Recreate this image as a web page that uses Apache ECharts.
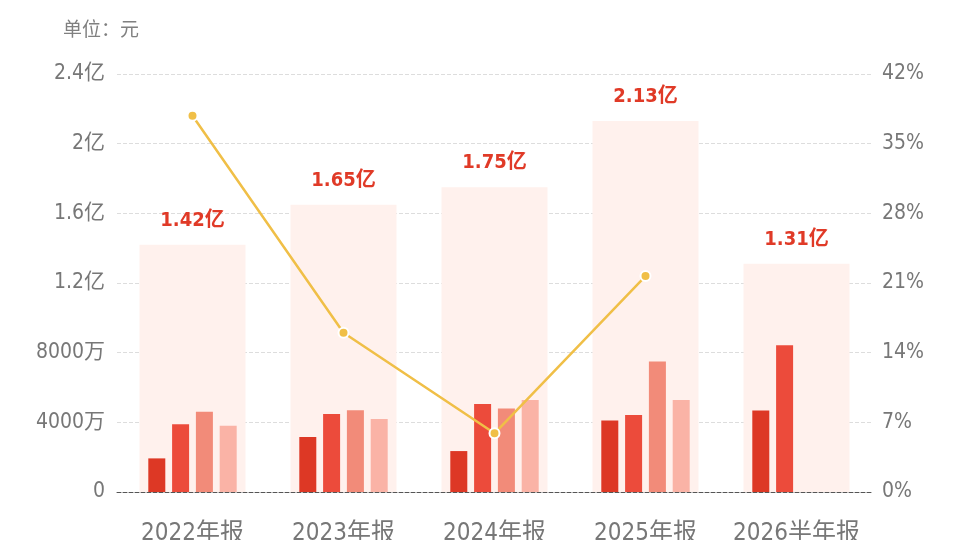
<!DOCTYPE html>
<html>
<head>
<meta charset="utf-8">
<style>
  html, body { margin: 0; padding: 0; background: #fff; }
  #main { width: 960px; height: 540px; }
</style>
<script src="https://cdn.jsdelivr.net/npm/echarts@6/dist/echarts.min.js"></script>
</head>
<body>
<div id="main"></div>
<script>
// categories
var periods = ['2022年报', '2023年报', '2024年报', '2025年报', '2026半年报'];
// quarterly values, 万元
var q1 = [1930, 3160, 2350, 4100, 4680];
var q2 = [3890, 4480, 5050, 4420, 8420];
var q3 = [4610, 4690, 4800, 7500, null];
var q4 = [3810, 4190, 5280, 5280, null];
// period totals, 万元
var totals = [14200, 16500, 17500, 21300, 13100];
// growth rate, %
var growth = [37.8, 16.0, 5.9, 21.7, null];
// left axis ticks
var leftTicks = [0, 4000, 8000, 12000, 16000, 20000, 24000];

var FONT = "'Liberation Sans Narrow', 'DejaVu Sans Condensed', 'Noto Sans CJK SC', sans-serif";
var barColors = ['#DD3825', '#EC4B3B', '#F28B79', '#FAB3A6'];

function fmtLeft(v) {
	if (v === 0) return '0';
	if (v >= 10000) return (v / 10000) + '亿';
	return v + '万';
}

var quarters = [q1, q2, q3, q4];
var series = [{
	name: 'total',
	type: 'bar',
	xAxisIndex: 1,
	barWidth: 106,
	data: totals,
	itemStyle: { color: '#FFF1ED' },
	label: {
		show: true,
		position: 'top',
		distance: 14,
		color: '#E03A27',
		fontWeight: 'bold',
		fontSize: 20,
		fontFamily: FONT,
		formatter: function (p) { return (p.value / 10000).toFixed(2) + '亿'; }
	},
	z: 1
}];
for (var i = 0; i < quarters.length; i++) {
	series.push({
		name: 'Q' + (i + 1),
		type: 'bar',
		xAxisIndex: 0,
		barWidth: 17,
		barGap: '40%',
		data: quarters[i],
		itemStyle: { color: barColors[i] },
		z: 2
	});
}
series.push({
	name: 'growth',
	type: 'line',
	yAxisIndex: 1,
	data: growth,
	symbol: 'circle',
	symbolSize: 10,
	lineStyle: { color: '#F0BF47', width: 2.5 },
	itemStyle: { color: '#F0BF47', borderColor: '#fff', borderWidth: 2 },
	z: 5
});

var option = {
	animation: false,
	title: {
		text: '单位：元',
		left: 58,
		top: 14,
		textStyle: { color: '#808080', fontSize: 19, fontWeight: 'normal', fontFamily: "'Noto Sans CJK SC', sans-serif" }
	},
	grid: { left: 117, right: 88, top: 74, bottom: 48, containLabel: false, outerBoundsMode: 'none' },
	xAxis: [{
		type: 'category',
		data: periods,
		axisLine: { lineStyle: { color: '#555', type: 'dashed', width: 1 } },
		axisTick: { show: false },
		axisLabel: { color: '#777', fontSize: 24, margin: 30, interval: 0, fontFamily: FONT }
	}, {
		type: 'category',
		data: periods,
		show: false
	}],
	yAxis: [{
		type: 'value',
		min: leftTicks[0],
		max: leftTicks[leftTicks.length - 1],
		interval: 4000,
		axisLine: { show: false },
		axisTick: { show: false },
		axisLabel: { color: '#777', fontSize: 21, margin: 12, fontFamily: FONT, formatter: fmtLeft },
		splitLine: { lineStyle: { color: '#ddd', type: 'dashed' } }
	}, {
		type: 'value',
		min: 0,
		max: 42,
		interval: 7,
		axisLine: { show: false },
		axisTick: { show: false },
		axisLabel: { color: '#777', fontSize: 21, margin: 10, fontFamily: FONT, formatter: '{value}%' },
		splitLine: { show: false }
	}],
	series: series
};

var myChart = echarts.init(document.getElementById('main'));
myChart.setOption(option);
</script>
</body>
</html>
